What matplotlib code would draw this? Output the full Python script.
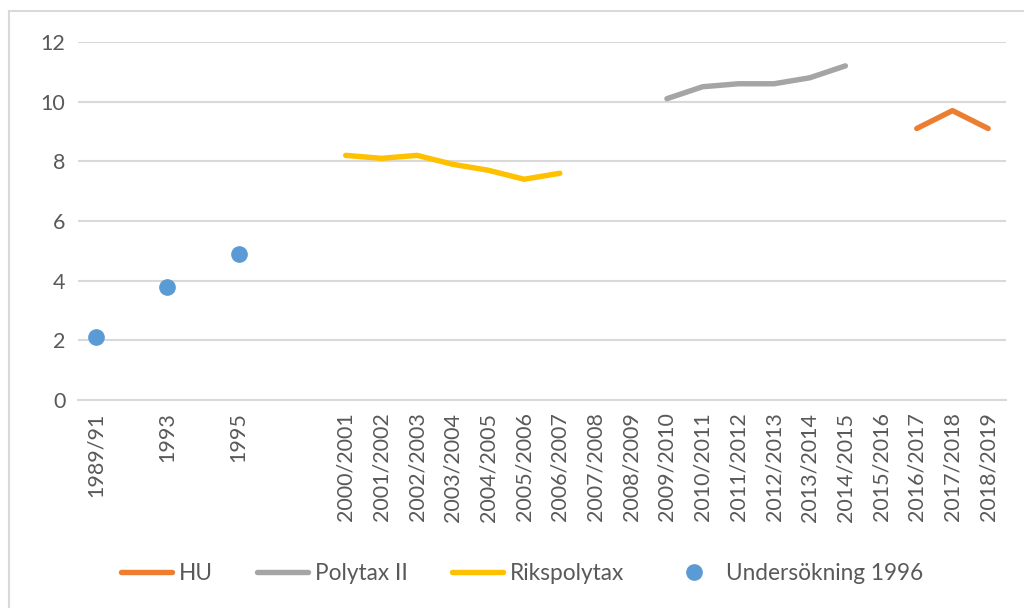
import numpy as np
import matplotlib
matplotlib.use("Agg")
import matplotlib.pyplot as plt
from matplotlib.lines import Line2D

categories = ["1989/91", "", "1993", "", "1995", "", "",
              "2000/2001", "2001/2002", "2002/2003", "2003/2004", "2004/2005",
              "2005/2006", "2006/2007", "2007/2008", "2008/2009", "2009/2010",
              "2010/2011", "2011/2012", "2012/2013", "2013/2014", "2014/2015",
              "2015/2016", "2016/2017", "2017/2018", "2018/2019"]

hu_cats = ["2016/2017", "2017/2018", "2018/2019"]
hu_vals = [9.1, 9.7, 9.1]

polytax_cats = ["2009/2010", "2010/2011", "2011/2012", "2012/2013", "2013/2014", "2014/2015"]
polytax_vals = [10.1, 10.5, 10.6, 10.6, 10.8, 11.2]

riks_cats = ["2000/2001", "2001/2002", "2002/2003", "2003/2004", "2004/2005", "2005/2006", "2006/2007"]
riks_vals = [8.2, 8.1, 8.2, 7.9, 7.7, 7.4, 7.6]

unders_cats = ["1989/91", "1993", "1995"]
unders_vals = [2.1, 3.8, 4.9]

yticks = [0, 2, 4, 6, 8, 10, 12]

plt.rcParams['font.family'] = ['Lato', 'DejaVu Sans']
txt = '#595959'
grid = '#D9D9D9'

W, H = 1024, 608
fig = plt.figure(figsize=(W / 100, H / 100), dpi=100)
ax = fig.add_axes([78 / W, 1 - 400 / H, (1006 - 78) / W, (400 - 42) / H])

idx = {c: i for i, c in enumerate(categories) if c}
x = np.arange(len(categories))

lw = 3.9
ax.plot([idx[c] for c in hu_cats], hu_vals, color='#ED7D31', lw=lw,
        solid_capstyle='round', solid_joinstyle='round', label='HU')
ax.plot([idx[c] for c in polytax_cats], polytax_vals, color='#A5A5A5', lw=lw,
        solid_capstyle='round', solid_joinstyle='round', label='Polytax II')
ax.plot([idx[c] for c in riks_cats], riks_vals, color='#FFC000', lw=lw,
        solid_capstyle='round', solid_joinstyle='round', label='Rikspolytax')
ax.plot([idx[c] for c in unders_cats], unders_vals, linestyle='none', marker='o',
        markersize=11, color='#5B9BD5', label='Undersökning 1996')

ax.set_xlim(-0.5, len(categories) - 0.5)
ax.set_ylim(0, 12)
ax.set_yticks(yticks)
ax.set_xticks(x)
ax.set_xticklabels(categories, rotation=90)
ax.yaxis.grid(True, color=grid, lw=1.5)
ax.set_axisbelow(True)
for s in ['top', 'right', 'left']:
    ax.spines[s].set_visible(False)
ax.spines['bottom'].set_color(grid)
ax.spines['bottom'].set_linewidth(1.5)
ax.tick_params(axis='both', length=0, colors=txt, labelsize=15.5)
ax.tick_params(axis='y', pad=9)
ax.tick_params(axis='x', pad=9)

handles, labels = ax.get_legend_handles_labels()
leg = fig.legend(handles, labels, loc='center', bbox_to_anchor=(0.51, 1 - 573 / H),
                 ncol=4, frameon=False, fontsize=16.3, handlelength=2.25,
                 handletextpad=0.3, columnspacing=1.95, labelcolor=txt)

# outer chart border
fig.add_artist(Line2D([9 / W, 9 / W], [0, 1 - 11 / H], color=grid, lw=1.5,
                      transform=fig.transFigure))
fig.add_artist(Line2D([9 / W, 1], [1 - 11 / H, 1 - 11 / H], color=grid, lw=1.5,
                      transform=fig.transFigure))

fig.savefig('out.png', dpi=100)
